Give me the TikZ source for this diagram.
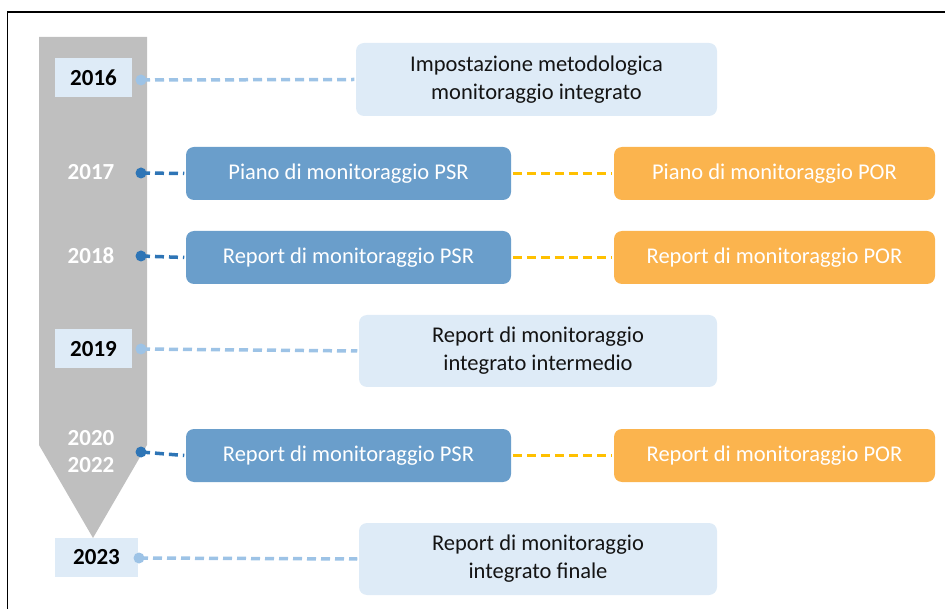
\documentclass[tikz,border=0pt]{standalone}
\usepackage{fontspec}
\setmainfont{Carlito}
\usepackage{xcolor}
\usepackage{tikz}

\definecolor{barGray}{RGB}{191,191,191}
\definecolor{paleBlue}{RGB}{222,235,247}
\definecolor{psrBlue}{RGB}{106,158,203}
\definecolor{porOrange}{RGB}{251,180,78}
\definecolor{lineLight}{RGB}{157,195,230}
\definecolor{lineDark}{RGB}{46,117,182}
\definecolor{lineOrange}{RGB}{255,192,0}
\definecolor{textDark}{RGB}{20,20,20}

\begin{document}
\begin{tikzpicture}[x=1pt, y=-1pt, line width=3.5pt,
    every node/.style={font=\fontsize{22.5}{28}\selectfont, inner sep=0pt},
    pale/.style={fill=paleBlue, rounded corners=8pt, minimum width=358pt, minimum height=72pt, align=center, text=textDark},
    psr/.style={fill=psrBlue, rounded corners=8pt, minimum width=325pt, minimum height=53pt, text=white},
    por/.style={fill=porOrange, rounded corners=8pt, minimum width=321pt, minimum height=53pt, text=white},
    yearbox/.style={fill=paleBlue, minimum height=39pt, text=black, font=\fontsize{23}{24}\selectfont\bfseries},
    yearbar/.style={text=white, align=center, font=\fontsize{23}{27}\selectfont\bfseries},
    ldot/.style={circle, fill=lineLight, minimum size=11pt},
    ddot/.style={circle, fill=lineDark, minimum size=11pt},
    lightdash/.style={lineLight, dash pattern=on 9pt off 5pt},
    darkdash/.style={lineDark, dash pattern=on 9pt off 5pt},
    orangedash/.style={lineOrange, dash pattern=on 9pt off 5pt}]
    \useasboundingbox (0,0) rectangle (945,609);
    \draw[line width=1.5pt] (7.5,615) -- (7.5,12) -- (950,12);

    % timeline bar
    \fill[barGray] (39,37) -- (147,37) -- (147,445) -- (93,538) -- (39,445) -- cycle;

    % years
    \node[yearbox, minimum width=77pt] (y2016) at (93.5,77.5) {2016};
    \node[yearbar] (y2017) at (91,172) {2017};
    \node[yearbar] (y2018) at (91,256) {2018};
    \node[yearbox, minimum width=77pt] (y2019) at (93.5,349) {2019};
    \node[yearbar] (y2020) at (91,451.5) {2020\\2022};
    \node[yearbox, minimum width=83pt] (y2023) at (96.5,557.5) {2023};

    % activities
    \node[pale, minimum width=361pt, minimum height=73pt] (imp) at (536.5,79.5) {Impostazione metodologica\\monitoraggio integrato};
    \node[psr] (psrA) at (348.5,173.5) {Piano di monitoraggio PSR};
    \node[por] (porA) at (774.5,173.5) {Piano di monitoraggio POR};
    \node[psr] (psrB) at (348.5,257.5) {Report di monitoraggio PSR};
    \node[por] (porB) at (774.5,257.5) {Report di monitoraggio POR};
    \node[pale] (mid) at (538,351) {Report di monitoraggio\\integrato intermedio};
    \node[psr] (psrC) at (348.5,455.5) {Report di monitoraggio PSR};
    \node[por] (porC) at (774.5,455.5) {Report di monitoraggio POR};
    \node[pale] (fin) at (538,559) {Report di monitoraggio\\integrato finale};

    % connectors
    \coordinate (d2016) at (141,80);
    \coordinate (d2017) at (141,173);
    \coordinate (d2018) at (141,256);
    \coordinate (d2019) at (141,349);
    \coordinate (d2020) at (141,452);
    \coordinate (d2023) at (139,558);
    \draw[lightdash] (d2016) -- (imp.west);
    \draw[darkdash] (d2017) -- (psrA.west);
    \draw[darkdash] (d2018) -- (psrB.west);
    \draw[lightdash] (d2019) -- (mid.west);
    \draw[darkdash] (d2020) -- (psrC.west);
    \draw[lightdash] (d2023) -- (fin.west);
    \draw[orangedash] (psrA.east) -- (porA.west);
    \draw[orangedash] (psrB.east) -- (porB.west);
    \draw[orangedash] (psrC.east) -- (porC.west);
    \node[ldot] at (d2016) {};
    \node[ddot] at (d2017) {};
    \node[ddot] at (d2018) {};
    \node[ldot] at (d2019) {};
    \node[ddot] at (d2020) {};
    \node[ldot] at (d2023) {};
\end{tikzpicture}
\end{document}
